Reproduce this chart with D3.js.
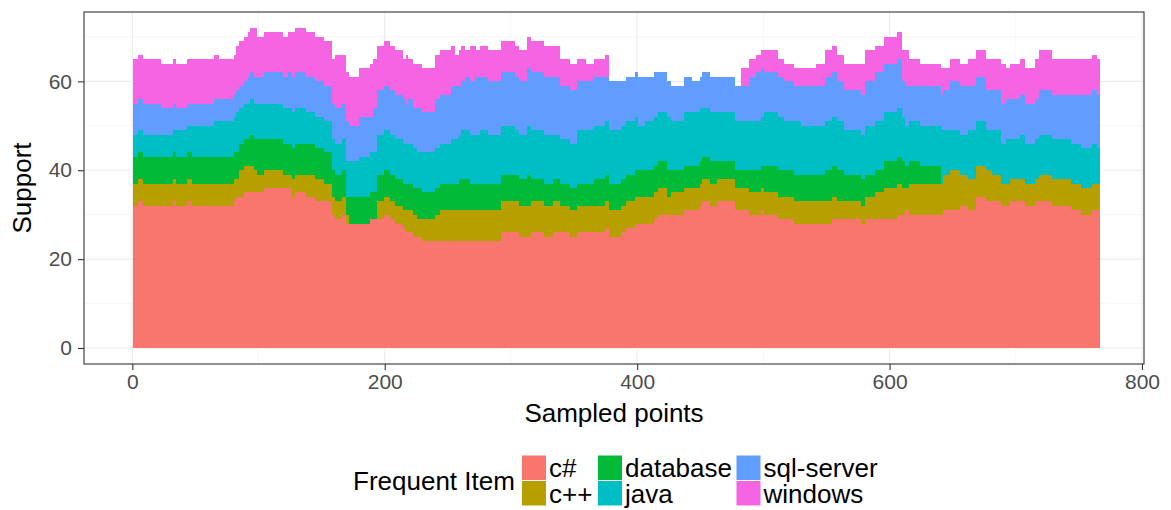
<!DOCTYPE html>
<html>
<head>
<meta charset="utf-8">
<script src="https://cdn.jsdelivr.net/npm/d3@7"></script>
<style>
  html, body { margin: 0; padding: 0; background: #ffffff; }
  svg { display: block; font-family: "Liberation Sans", Arial, Helvetica, sans-serif; }
</style>
</head>
<body>
<svg id="chart" width="1171" height="510"></svg>
<script>
// Support of each frequent item over the sampled points, stored as runs:
// run k covers sampled points (segmentEnd[k-1] + 1) .. segmentEnd[k].
const segmentEnd = [4,8,22,32,34,43,47,64,68,80,82,84,88,91,93,96,98,104,119,123,126,128,137,144,151,158,160,166,169,171,179,188,190,193,199,204,208,214,216,218,222,225,229,239,243,252,255,258,260,263,267,272,275,281,292,303,306,312,315,326,333,338,346,352,359,365,374,377,387,391,398,400,406,413,416,423,426,437,443,449,451,457,463,477,482,488,494,498,500,511,516,524,529,541,548,554,558,563,577,580,588,595,605,609,612,615,624,640,642,647,655,662,668,676,681,688,692,695,703,707,715,718,728,743,751,760,764,766];
const csharp    = [32,33,32,32,33,32,33,32,32,32,33,34,34,35,35,35,35,35,36,36,36,34,35,34,33,33,30,29,30,28,28,28,29,29,29,30,29,28,27,26,26,25,25,24,24,24,24,24,24,24,24,24,24,24,24,26,26,25,25,26,25,26,26,25,26,26,26,27,25,26,27,28,28,28,29,30,30,30,31,31,32,33,32,33,31,31,30,30,31,30,29,29,28,28,28,28,29,29,29,28,29,29,29,30,30,31,30,30,30,31,31,32,31,34,33,33,32,32,33,33,32,33,33,32,31,30,31,31];
const cpp       = [5,5,5,5,5,5,5,5,5,5,5,4,6,6,6,6,5,4,4,3,3,4,4,5,5,4,4,4,4,2,0,0,0,0,4,4,4,4,4,5,5,5,4,5,6,7,7,7,7,7,7,7,7,7,7,7,7,7,7,7,7,7,6,6,6,6,6,6,6,6,6,6,6,6,6,6,4,5,5,5,5,5,5,5,5,5,5,5,5,5,5,5,5,5,5,5,5,4,4,4,5,6,7,7,6,5,7,7,7,8,9,7,7,7,7,6,5,5,5,5,5,5,6,6,6,6,6,6];
const database  = [6,6,6,6,6,6,6,6,6,6,6,6,6,6,6,7,7,8,7,7,7,7,7,7,7,7,6,6,6,4,6,6,6,6,6,6,6,6,6,6,6,6,7,6,6,6,6,6,7,7,7,6,6,6,6,6,6,6,7,5,5,5,5,5,5,5,6,6,6,6,6,6,6,6,6,6,6,5,5,5,5,5,5,4,4,4,5,5,5,6,6,6,6,6,6,7,7,7,6,6,5,5,6,6,6,5,5,4,0,0,0,0,0,0,0,0,0,0,0,0,0,0,0,0,0,0,0,0];
const java      = [5,5,5,5,5,6,6,7,8,8,8,9,8,8,8,8,8,8,8,8,8,8,8,7,7,7,7,7,7,8,8,9,9,9,9,9,9,9,9,9,9,9,8,9,9,9,10,10,10,11,11,11,11,12,11,11,10,10,11,11,11,10,10,10,12,12,12,12,12,12,12,12,10,11,11,11,12,11,12,12,12,11,11,11,11,11,11,11,11,12,12,11,12,11,11,11,11,11,10,10,11,11,11,11,10,9,9,9,12,10,9,9,11,10,9,10,9,10,9,10,9,9,9,9,9,9,9,8];
const sqlServer = [7,7,7,6,6,5,5,5,5,5,5,5,5,5,6,6,6,6,7,7,8,8,8,8,8,8,8,8,8,9,8,9,8,10,10,10,10,10,10,9,10,9,10,9,11,11,12,12,11,11,12,12,13,12,12,12,12,12,13,13,13,13,12,12,11,11,11,10,11,10,10,10,11,10,10,9,8,8,8,7,7,8,8,8,8,8,10,11,11,9,9,9,8,9,9,10,10,9,9,9,10,11,11,11,8,9,8,9,8,9,11,11,10,10,9,9,9,9,9,9,9,9,10,10,11,12,12,12];
const windows   = [10,10,10,10,10,10,10,10,10,9,9,10,10,10,10,10,11,9,9,9,9,10,10,10,10,10,10,12,11,11,11,11,12,11,10,10,10,10,9,11,9,10,10,10,10,10,9,7,8,8,6,8,6,7,7,7,7,7,7,7,7,7,6,6,5,4,4,5,0,0,0,0,0,0,0,0,0,0,0,0,0,0,0,0,0,4,4,4,4,5,4,4,4,4,5,6,6,6,6,7,7,6,6,6,7,8,6,5,6,5,5,5,6,6,7,7,9,7,8,8,8,9,9,8,8,8,8,8];

const seriesNames  = ["c#", "c++", "database", "java", "sql-server", "windows"];
const seriesColors = ["#F8766D", "#B79F00", "#00BA38", "#00BFC4", "#619CFF", "#F564E3"];
const xTicks = [0, 200, 400, 600, 800];
const yTicks = [0, 20, 40, 60];
const xMinor = [100, 300, 500, 700];
const yMinor = [10, 30, 50, 70];

// One row per sampled point, built from the runs above.
const seriesRuns = [csharp, cpp, database, java, sqlServer, windows];
const rows = [];
let first = 1;
segmentEnd.forEach((end, k) => {
  for (let p = first; p <= end; p++) {
    const row = { point: p };
    seriesNames.forEach((name, s) => { row[name] = seriesRuns[s][k]; });
    rows.push(row);
  }
  first = end + 1;
});
const layers = d3.stack().keys(seriesNames)(rows);

const panel = { left: 84, right: 1144, top: 12, bottom: 364 };
const x = d3.scaleLinear().domain([-38.3, 801.6]).range([panel.left, panel.right]);
const y = d3.scaleLinear().domain([-3.6, 75.6]).range([panel.bottom, panel.top]);
const color = d3.scaleOrdinal().domain(seriesNames).range(seriesColors);

const svg = d3.select("#chart");
svg.append("rect").attr("width", 1171).attr("height", 510).attr("fill", "#ffffff");

// Grid
const grid = svg.append("g");
grid.selectAll(".ymin").data(yMinor).join("line")
  .attr("x1", panel.left).attr("x2", panel.right)
  .attr("y1", d => y(d)).attr("y2", d => y(d))
  .attr("stroke", "#F0F0F0").attr("stroke-width", 0.6);
grid.selectAll(".xmin").data(xMinor).join("line")
  .attr("y1", panel.top).attr("y2", panel.bottom)
  .attr("x1", d => x(d)).attr("x2", d => x(d))
  .attr("stroke", "#F0F0F0").attr("stroke-width", 0.6);
grid.selectAll(".ymaj").data(yTicks).join("line")
  .attr("x1", panel.left).attr("x2", panel.right)
  .attr("y1", d => y(d)).attr("y2", d => y(d))
  .attr("stroke", "#EBEBEB").attr("stroke-width", 1.1);
grid.selectAll(".xmaj").data(xTicks).join("line")
  .attr("y1", panel.top).attr("y2", panel.bottom)
  .attr("x1", d => x(d)).attr("x2", d => x(d))
  .attr("stroke", "#EBEBEB").attr("stroke-width", 1.1);

// Stacked bars, one column per sampled point
const bars = svg.append("g").attr("shape-rendering", "crispEdges");
layers.forEach(layer => {
  bars.append("g").attr("fill", color(layer.key))
    .selectAll("rect")
    .data(layer.filter(d => d[1] - d[0] > 0))
    .join("rect")
    .attr("x", d => x(d.data.point - 0.5))
    .attr("width", d => x(d.data.point + 0.5) - x(d.data.point - 0.5))
    .attr("y", d => y(d[1]))
    .attr("height", d => y(d[0]) - y(d[1]));
});

// Panel border
svg.append("rect")
  .attr("x", panel.left).attr("y", panel.top)
  .attr("width", panel.right - panel.left).attr("height", panel.bottom - panel.top)
  .attr("fill", "none").attr("stroke", "#333333").attr("stroke-width", 1.1);

// Axes
const xAxis = svg.append("g").attr("transform", `translate(0,${panel.bottom})`)
  .call(d3.axisBottom(x).tickValues(xTicks).tickSize(6).tickPadding(4));
const yAxis = svg.append("g").attr("transform", `translate(${panel.left},0)`)
  .call(d3.axisLeft(y).tickValues(yTicks).tickSize(6).tickPadding(6));
[xAxis, yAxis].forEach(a => {
  a.select(".domain").remove();
  a.selectAll(".tick line").attr("stroke", "#333333").attr("stroke-width", 1.1);
  a.selectAll(".tick text").attr("fill", "#4D4D4D")
    .style("font-size", "21px").style("font-family", "'Liberation Sans', Arial, sans-serif");
});

// Axis titles
svg.append("text")
  .attr("transform", `translate(22,${(panel.top + panel.bottom) / 2}) rotate(-90)`)
  .attr("text-anchor", "middle").attr("dy", "0.35em")
  .style("font-size", "26px").attr("fill", "#000000")
  .text("Support");
svg.append("text")
  .attr("x", (panel.left + panel.right) / 2).attr("y", 413)
  .attr("text-anchor", "middle").attr("dy", "0.35em")
  .style("font-size", "26px").attr("fill", "#000000")
  .text("Sampled points");

// Legend
const legend = svg.append("g");
legend.append("text")
  .attr("x", 353).attr("y", 481).attr("dy", "0.35em")
  .style("font-size", "26px").attr("fill", "#000000")
  .text("Frequent Item");
const keyCols = [522, 598, 736.5];
const keyRows = [455.5, 481];
seriesNames.forEach((name, i) => {
  const cx = keyCols[Math.floor(i / 2)];
  const cy = keyRows[i % 2];
  legend.append("rect")
    .attr("x", cx).attr("y", cy).attr("width", 24).attr("height", 24.5)
    .attr("fill", color(name));
  legend.append("text")
    .attr("x", cx + 27).attr("y", cy + 12.5).attr("dy", "0.35em")
    .style("font-size", "26px").attr("fill", "#000000")
    .text(name);
});
</script>
</body>
</html>
